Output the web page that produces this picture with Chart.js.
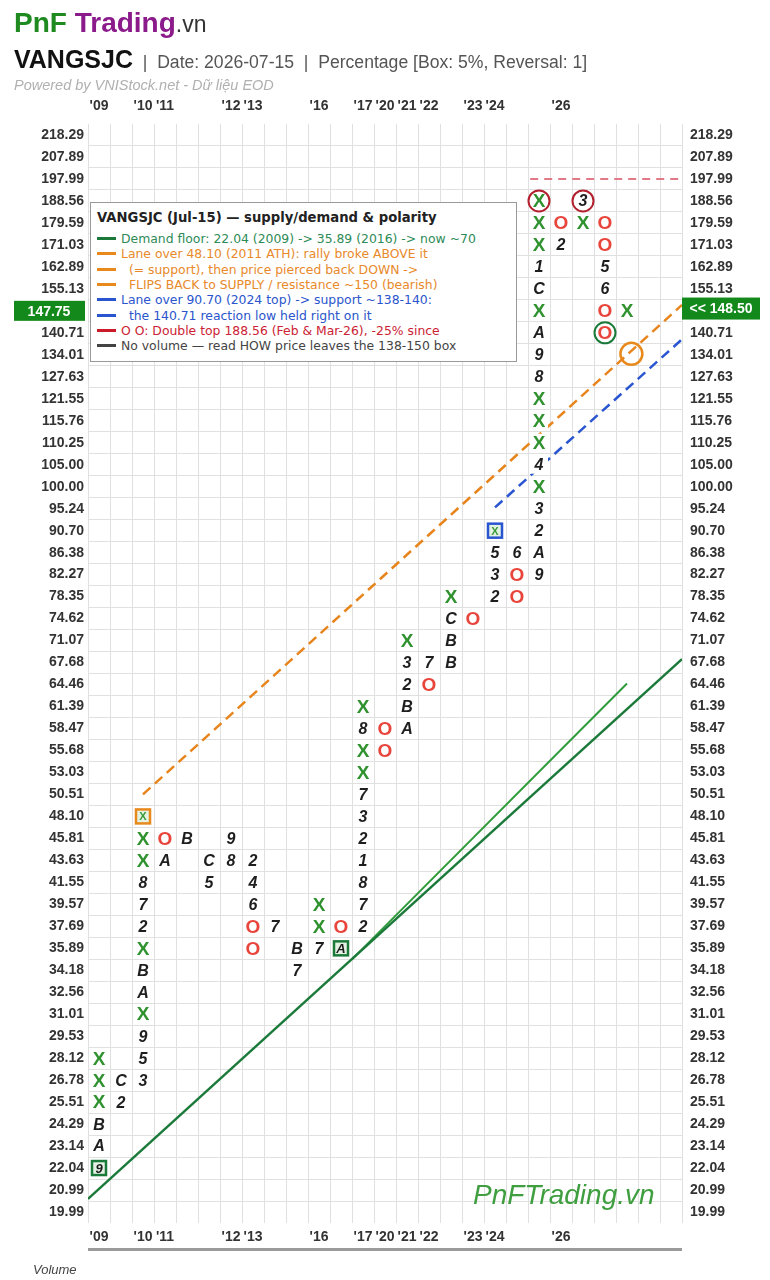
<!DOCTYPE html>
<html><head><meta charset="utf-8">
<script src="https://cdn.jsdelivr.net/npm/chart.js@4.4.0/dist/chart.umd.min.js"></script>
<style>
html,body{margin:0;padding:0;background:#fff;}
#wrap{position:relative;width:770px;height:1280px;overflow:hidden;background:#fff;}
#c{position:absolute;left:0;top:0;}
.t{position:absolute;white-space:pre;font-family:"Liberation Sans",Arial,sans-serif;}
#legend{position:absolute;left:90px;top:202px;width:427px;height:160px;border:1px solid #9a9a9a;background:#fff;box-sizing:border-box;font-family:"DejaVu Sans",sans-serif;}
#legend .lt{position:absolute;left:6px;top:7px;font-size:13.2px;font-weight:bold;color:#222;white-space:pre;line-height:16px;}
#legend .li{position:absolute;left:6px;font-size:12.4px;white-space:pre;line-height:16px;}
#legend .sw{display:inline-block;width:19px;height:3px;vertical-align:middle;margin-right:5px;position:relative;top:-1px;}
</style></head><body>
<div id="wrap">
<canvas id="c" width="770" height="1280" style="width:770px;height:1280px"></canvas>
<div class="t" style="left:14px;top:8px;font-size:28px;font-weight:bold;line-height:30px;"><span style="color:#1f8a1f">PnF</span> <span style="color:#8b1a8b">Trading</span><span style="color:#333;font-weight:normal;font-size:23px">.vn</span></div>
<div class="t" style="left:14px;top:45px;line-height:28px;"><span style="font-size:25px;font-weight:bold;color:#111">VANGSJC</span><span style="font-size:17.6px;color:#555">  |  Date: 2026-07-15  |  Percentage [Box: 5%, Reversal: 1]</span></div>
<div class="t" style="left:14px;top:77px;font-size:14.5px;font-style:italic;color:#b0b0b0;line-height:16px;">Powered by VNIStock.net - Dữ liệu EOD</div>
<div id="legend"></div>
<div style="position:absolute;left:88px;top:1248px;width:594px;height:3px;background:#9a9a9a;"></div>
<div class="t" style="left:33px;top:1262px;font-size:13px;font-style:italic;color:#444;line-height:16px;">Volume</div>
<div class="t" style="left:473px;top:1179px;font-size:28px;font-style:italic;color:#3f9e3f;line-height:32px;">PnFTrading.vn</div>
</div>
<script>
// ---- data ----
const priceLabels = ['19.99','20.99','22.04','23.14','24.29','25.51','26.78','28.12','29.53','31.01','32.56','34.18','35.89','37.69','39.57','41.55','43.63','45.81','48.10','50.51','53.03','55.68','58.47','61.39','64.46','67.68','71.07','74.62','78.35','82.27','86.38','90.70','95.24','100.00','105.00','110.25','115.76','121.55','127.63','134.01','140.71','147.75','155.13','162.89','171.03','179.59','188.56','197.99','207.89','218.29'];
const NCOLS = 27;
const yearCols = [0,2,3,6,7,10,12,13,14,15,17,18,21];
const yearText = ["'09","'10","'11","'12","'13","'16","'17","'20","'21","'22","'23","'24","'26"];

const xMarks = [[0,'25.51'],[0,'26.78'],[0,'28.12'],
 [2,'31.01'],[2,'35.89'],[2,'43.63'],[2,'45.81'],
 [10,'37.69'],[10,'39.57'],
 [12,'53.03'],[12,'55.68'],[12,'61.39'],
 [14,'71.07'],[16,'78.35'],
 [20,'100.00'],[20,'110.25'],[20,'115.76'],[20,'121.55'],[20,'147.75'],[20,'171.03'],[20,'179.59'],[20,'188.56'],
 [22,'179.59'],[24,'147.75']];
const oMarks = [[3,'45.81'],[7,'37.69'],[7,'35.89'],[11,'37.69'],[13,'58.47'],[13,'55.68'],[15,'64.46'],[17,'74.62'],
 [19,'82.27'],[19,'78.35'],[21,'179.59'],[23,'179.59'],[23,'171.03'],[23,'147.75'],[23,'140.71']];
const monthMarks = [[0,'23.14','A'],[0,'24.29','B'],
 [1,'26.78','C'],[1,'25.51','2'],
 [2,'26.78','3'],[2,'28.12','5'],[2,'29.53','9'],[2,'32.56','A'],[2,'34.18','B'],[2,'37.69','2'],[2,'39.57','7'],[2,'41.55','8'],
 [3,'43.63','A'],[4,'45.81','B'],[5,'43.63','C'],[5,'41.55','5'],[6,'45.81','9'],[6,'43.63','8'],
 [7,'43.63','2'],[7,'41.55','4'],[7,'39.57','6'],[8,'37.69','7'],[9,'35.89','B'],[9,'34.18','7'],[10,'35.89','7'],
 [12,'37.69','2'],[12,'39.57','7'],[12,'41.55','8'],[12,'43.63','1'],[12,'45.81','2'],[12,'48.10','3'],[12,'50.51','7'],[12,'58.47','8'],
 [14,'58.47','A'],[14,'61.39','B'],[14,'64.46','2'],[14,'67.68','3'],[15,'67.68','7'],
 [16,'67.68','B'],[16,'71.07','B'],[16,'74.62','C'],
 [18,'78.35','2'],[18,'82.27','3'],[18,'86.38','5'],[19,'86.38','6'],
 [20,'82.27','9'],[20,'86.38','A'],[20,'90.70','2'],[20,'95.24','3'],[20,'105.00','4'],[20,'127.63','8'],[20,'134.01','9'],[20,'140.71','A'],[20,'155.13','C'],[20,'162.89','1'],
 [21,'171.03','2'],[22,'188.56','3'],[23,'162.89','5'],[23,'155.13','6']];
const boxedMarks = [[0,'22.04','9'],[2,'48.10','X'],[11,'35.89','A'],[18,'90.70','X']];
const boxColors = ['#1b7a3a','#e8891c','#1b7a3a','#2a55d0'];
const circledMarks = [[20,'188.56'],[22,'188.56'],[23,'140.71']];
const circleColors = ['#b21f2d','#b21f2d','#1b7a3a'];

// trend lines: [column, price]
const demandFloor = [[-0.5,20.58],[26.5,68.2]];
const demandFloor2 = [[11.5,35.02],[24,64.6]];
const supplyLane = [[2,50.51],[26.5,149.7]];
const supportLane = [[18,95.5],[26.5,138.7]];
const doubleTop = [[19.6,197.99],[26.5,197.99]];
const testPoint = [[24.2,134.3]];
const lastPrice = 148.50;
const lastRowLabel = '147.75';

const legendItems = [
 ['#1b7a3a','#2e8b57','Demand floor: 22.04 (2009) -> 35.89 (2016) -> now ~70'],
 ['#e8891c','#e8892a','Lane over 48.10 (2011 ATH): rally broke ABOVE it'],
 ['#e8891c','#e8892a','  (= support), then price pierced back DOWN ->'],
 ['#e8891c','#e8892a','  FLIPS BACK to SUPPLY / resistance ~150 (bearish)'],
 ['#2a55d0','#2a55cc','Lane over 90.70 (2024 top) -> support ~138-140:'],
 ['#2a55d0','#2a55cc','  the 140.71 reaction low held right on it'],
 ['#cc1a2a','#cc2233','O O: Double top 188.56 (Feb & Mar-26), -25% since'],
 ['#444444','#444444','No volume — read HOW price leaves the 138-150 box']];
const legendTitle = 'VANGSJC (Jul-15) — supply/demand & polarity';

// ---- legend (html) ----
(function(){
  const lg = document.getElementById('legend');
  const t = document.createElement('div'); t.className='lt'; t.textContent = legendTitle; lg.appendChild(t);
  legendItems.forEach((it,i)=>{
    const d = document.createElement('div'); d.className='li'; d.style.top = (28 + i*15.3)+'px';
    const sw = document.createElement('span'); sw.className='sw'; sw.style.background = it[0];
    const tx = document.createElement('span'); tx.style.color = it[1]; tx.textContent = it[2];
    d.appendChild(sw); d.appendChild(tx); lg.appendChild(d);
  });
})();

const priceVals = priceLabels.map(parseFloat);
const yMin = priceVals[0]/Math.sqrt(1.05), yMax = priceVals[priceVals.length-1]*Math.sqrt(1.05);
const pts = arr => arr.map(a => ({x:a[0], y: typeof a[1]==='string' ? parseFloat(a[1]) : a[1]}));
const lastIdx = priceLabels.indexOf(lastRowLabel);
const FONT = '"Liberation Sans", Arial, sans-serif';

const lineDs = (data,color,w,dash) => ({type:'scatter', data: pts(data), showLine:true, borderColor:color, borderWidth:w, borderDash:dash||[], pointRadius:0, fill:false, tension:0});

const glyphPlugin = {
  id:'pnfGlyphs',
  afterDatasetsDraw(chart){
    const ctx = chart.ctx;
    ctx.save();
    chart.data.datasets.forEach((ds,di)=>{
      if(!ds.glyph) return;
      const meta = chart.getDatasetMeta(di);
      meta.data.forEach((el,i)=>{
        const x = el.x, y = el.y;
        ctx.textAlign='center'; ctx.textBaseline='middle';
        if (ds.glyph==='circle') {
          ctx.beginPath(); ctx.arc(x, y, 10.5, 0, Math.PI*2);
          ctx.lineWidth = 2; ctx.strokeStyle = ds.colors[i]; ctx.stroke();
          return;
        }
        ctx.fillStyle='#fff'; ctx.fillRect(x-9, y-9, 18, 18);
        if (ds.glyph==='box') {
          ctx.fillStyle='#e4f2e4'; ctx.fillRect(x-7, y-7, 14, 14);
          ctx.lineWidth=2.5; ctx.strokeStyle=ds.colors[i]; ctx.strokeRect(x-7, y-7, 14, 14);
          const g = ds.labels[i];
          if (g==='X') { ctx.font='bold 11px '+FONT; ctx.fillStyle='#3a9a3a'; }
          else { ctx.font='italic bold 13px '+FONT; ctx.fillStyle='#1a1a1a'; }
          ctx.fillText(g, x, y+1);
        } else if (ds.glyph==='X') {
          ctx.font='bold 19px '+FONT; ctx.fillStyle='#2f922f'; ctx.fillText('X', x, y+1);
        } else if (ds.glyph==='O') {
          ctx.font='bold 19px '+FONT; ctx.fillStyle='#e8453c'; ctx.fillText('O', x, y+1);
        } else {
          ctx.font='italic bold 16px '+FONT; ctx.fillStyle='#1e1e1e'; ctx.fillText(ds.labels[i], x, y+1);
        }
      });
    });
    ctx.restore();
  },
  afterDraw(chart){
    const ctx = chart.ctx, ys = chart.scales.y, ca = chart.chartArea;
    ctx.save();
    const yp = ys.getPixelForValue(lastPrice);
    ctx.fillStyle='#12891a'; ctx.fillRect(ca.right, yp-11, 78, 22);
    ctx.fillStyle='#fff'; ctx.font='bold 14px '+FONT; ctx.textAlign='center'; ctx.textBaseline='middle';
    ctx.fillText('<< '+lastPrice.toFixed(2), ca.right+39, yp+1);
    const yr = ys.getPixelForValue(priceVals[lastIdx]);
    ctx.fillStyle='#12891a'; ctx.fillRect(14, yr-10, 71, 20);
    ctx.fillStyle='#fff'; ctx.fillText(priceLabels[lastIdx], 49, yr+1);
    ctx.restore();
  }
};

const colTicks = Array.from({length:NCOLS},(_,i)=>i);
const xLabel = v => { const k = yearCols.indexOf(v); return k>=0 ? yearText[k] : ''; };
const tickFont = {family: FONT, size: 14, weight:'bold'};

new Chart(document.getElementById('c'), {
  type:'scatter',
  data:{ datasets:[
    lineDs(demandFloor,'#1b7a3a',2.5),
    lineDs(demandFloor2,'#2f9a3a',2),
    lineDs(supplyLane,'#e8841c',2.5,[10,6]),
    lineDs(supportLane,'#2a55d0',2.5,[10,6]),
    lineDs(doubleTop,'#e07a86',2,[8,6]),
    {type:'scatter', data: pts(testPoint), pointRadius:11, pointBorderWidth:2.5, pointBorderColor:'#e8891c', pointBackgroundColor:'rgba(0,0,0,0)', borderColor:'#e8891c', backgroundColor:'rgba(0,0,0,0)'},
    {data: pts(xMarks), pointRadius:0, glyph:'X'},
    {data: pts(oMarks), pointRadius:0, glyph:'O'},
    {data: pts(monthMarks), pointRadius:0, glyph:'month', labels: monthMarks.map(m=>m[2])},
    {data: pts(boxedMarks), pointRadius:0, glyph:'box', labels: boxedMarks.map(m=>m[2]), colors: boxColors},
    {data: pts(circledMarks), pointRadius:0, glyph:'circle', colors: circleColors}
  ]},
  options:{
    responsive:false, animation:false, devicePixelRatio:1, events:[],
    layout:{padding:{top:96,bottom:37,left:0,right:0}},
    plugins:{legend:{display:false}, tooltip:{enabled:false}},
    scales:{
      x:{type:'linear', position:'bottom', min:-0.5, max:NCOLS-0.5,
        afterBuildTicks:s=>{s.ticks = colTicks.map(v=>({value:v}));},
        afterFit:s=>{s.height=20;},
        grid:{display:true, offset:true, color:'#e0e0e0', lineWidth:1, drawTicks:false},
        border:{display:false},
        ticks:{autoSkip:false, maxRotation:0, minRotation:0, padding:6, color:'#333', font:tickFont, callback:v=>xLabel(v)}},
      xTop:{type:'linear', position:'top', min:-0.5, max:NCOLS-0.5,
        afterBuildTicks:s=>{s.ticks = colTicks.map(v=>({value:v}));},
        afterFit:s=>{s.height=28;},
        grid:{display:false, drawTicks:false}, border:{display:false},
        ticks:{autoSkip:false, maxRotation:0, minRotation:0, padding:9, color:'#333', font:tickFont, callback:v=>xLabel(v)}},
      y:{type:'logarithmic', position:'left', min:yMin, max:yMax,
        afterBuildTicks:s=>{s.ticks = priceVals.map(v=>({value:v}));},
        afterFit:s=>{s.width=88;},
        grid:{display:true, offset:true, color:'#e0e0e0', lineWidth:1, drawTicks:false},
        border:{display:false},
        ticks:{autoSkip:false, padding:4, font:tickFont,
          color:c=>c.index===lastIdx?'rgba(0,0,0,0)':'#333',
          callback:(v,i)=>priceLabels[i]}},
      yRight:{type:'logarithmic', position:'right', min:yMin, max:yMax,
        afterBuildTicks:s=>{s.ticks = priceVals.map(v=>({value:v}));},
        afterFit:s=>{s.width=88;},
        grid:{display:false, drawTicks:false}, border:{display:false},
        ticks:{autoSkip:false, padding:8, font:tickFont,
          color:c=>c.index===lastIdx?'rgba(0,0,0,0)':'#333',
          callback:(v,i)=>priceLabels[i]}}
    }
  },
  plugins:[glyphPlugin]
});
</script>
</body></html>
